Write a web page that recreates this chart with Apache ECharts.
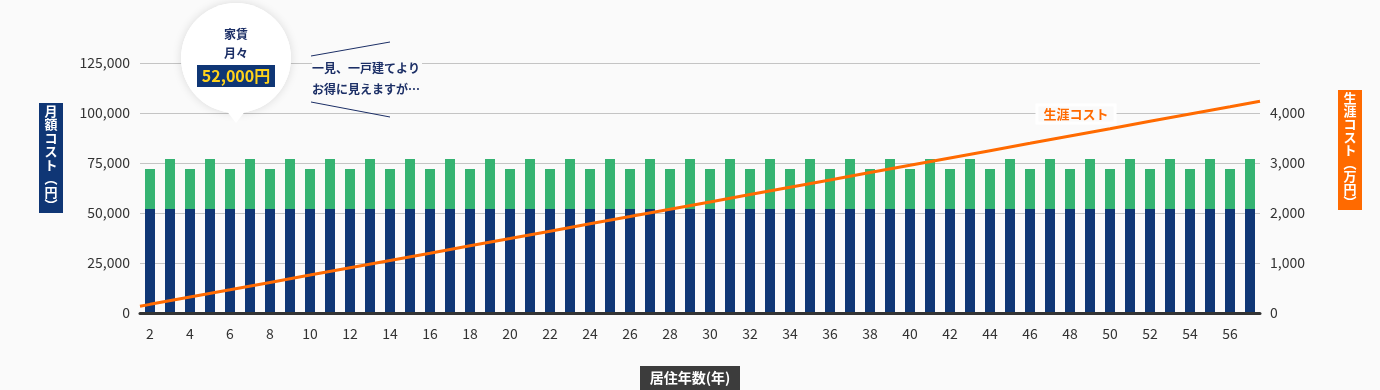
<!DOCTYPE html>
<html>
<head>
<meta charset="utf-8">
<script src="https://cdn.jsdelivr.net/npm/echarts@6/dist/echarts.min.js"></script>
<style>
html,body{margin:0;padding:0;background:#fafafa;}
#c{width:1380px;height:390px;}
</style>
</head>
<body>
<div id="c"></div>
<script>
// ---- data ----
const years = ['2','3','4','5','6','7','8','9','10','11','12','13','14','15','16','17','18','19','20','21','22','23','24','25','26','27','28','29','30','31','32','33','34','35','36','37','38','39','40','41','42','43','44','45','46','47','48','49','50','51','52','53','54','55','56','57'];
const rent = [52000,52000,52000,52000,52000,52000,52000,52000,52000,52000,52000,52000,52000,52000,52000,52000,52000,52000,52000,52000,52000,52000,52000,52000,52000,52000,52000,52000,52000,52000,52000,52000,52000,52000,52000,52000,52000,52000,52000,52000,52000,52000,52000,52000,52000,52000,52000,52000,52000,52000,52000,52000,52000,52000,52000,52000];
const otherCost = [20000,25000,20000,25000,20000,25000,20000,25000,20000,25000,20000,25000,20000,25000,20000,25000,20000,25000,20000,25000,20000,25000,20000,25000,20000,25000,20000,25000,20000,25000,20000,25000,20000,25000,20000,25000,20000,25000,20000,25000,20000,25000,20000,25000,20000,25000,20000,25000,20000,25000,20000,25000,20000,25000,20000,25000];
const lifeYears = [1.5,2,4,6,8,10,12,14,16,18,20,22,24,26,28,30,32,34,36,38,40,42,44,46,48,50,52,54,56,57.5];
const lifeCost = [136,173,319,465,612,758,905,1051,1197,1344,1490,1637,1783,1929,2076,2222,2369,2515,2661,2808,2954,3101,3247,3393,3540,3686,3833,3979,4125,4235];
const leftTicks = [0,25000,50000,75000,100000,125000];
const rightTicks = [0,1000,2000,3000,4000,5000];

const NAVY = '#0f3675', GREEN = '#35b372', ORANGE = '#ff6a00';
const FONT = 'Noto Sans CJK JP';

const chart = echarts.init(document.getElementById('c'), null, {renderer:'canvas'});
const fmt = v => v.toLocaleString('en-US');

chart.setOption({
  backgroundColor: '#fafafa',
  animation: false,
  textStyle: {fontFamily: FONT},
  grid: {left: 140, right: 120, top: 63, bottom: 77},
  xAxis: [{
    type: 'category', data: years,
    axisLine: {lineStyle: {color: '#333', width: 3}},
    axisTick: {interval: 1, alignWithLabel: true, length: 7, lineStyle: {color: '#aaa'}},
    axisLabel: {interval: 1, color: '#333', fontSize: 14, margin: 14, fontFamily: FONT},
    z: 5
  },{
    type: 'value', min: 1.5, max: 57.5, show: false
  }],
  yAxis: [{
    type: 'value', min: leftTicks[0], max: leftTicks[leftTicks.length-1], interval: 25000,
    axisLine: {show: false}, axisTick: {show: false},
    axisLabel: {color: '#333', fontSize: 14, margin: 10, formatter: fmt, fontFamily: FONT},
    splitLine: {lineStyle: {color: '#c4c4c4', width: 1}}
  },{
    type: 'value', min: rightTicks[0], max: rightTicks[rightTicks.length-1], interval: 1000,
    axisLine: {show: false}, axisTick: {show: false},
    axisLabel: {color: '#333', fontSize: 14, margin: 10, formatter: fmt, showMaxLabel: false, fontFamily: FONT},
    splitLine: {show: false}
  }],
  series: [{
    name: '家賃', type: 'bar', stack: 'm', data: rent, barWidth: 10,
    itemStyle: {color: NAVY}
  },{
    name: 'その他', type: 'bar', stack: 'm', data: otherCost, barWidth: 10,
    itemStyle: {color: GREEN}
  },{
    name: '生涯コスト', type: 'line', xAxisIndex: 1, yAxisIndex: 1,
    data: lifeYears.map((y,i)=>[y, lifeCost[i]]),
    symbol: 'none', lineStyle: {color: ORANGE, width: 3}, z: 10
  }],
  graphic: [
    // left axis name
    {type:'rect', left:39, top:103, shape:{width:24, height:110}, style:{fill:NAVY}},
    {type:'text', x:51, y:158, style:{text:'月\n額\nコ\nス\nト\n︵\n円\n︶', fill:'#fff', font:'bold 13px "Noto Sans CJK JP"', align:'center', verticalAlign:'middle', lineHeight:13.5}},
    // right axis name
    {type:'rect', left:1338, top:90, shape:{width:24, height:120}, style:{fill:ORANGE}},
    {type:'text', x:1350, y:150, style:{text:'生\n涯\nコ\nス\nト\n︵\n万\n円\n︶', fill:'#fff', font:'bold 13px "Noto Sans CJK JP"', align:'center', verticalAlign:'middle', lineHeight:13}},
    // x axis name
    {type:'rect', left:640, top:366, shape:{width:100, height:24}, style:{fill:'#3c3c3c'}},
    {type:'text', x:690, y:378, style:{text:'居住年数(年)', fill:'#fff', font:'bold 14px "Noto Sans CJK JP"', align:'center', verticalAlign:'middle'}},
    // line label
    {type:'text', x:1076, y:114, z:20, style:{text:'生涯コスト', fill:ORANGE, font:'bold 13px "Noto Sans CJK JP"', align:'center', verticalAlign:'middle', backgroundColor:'#fafafa', padding:[1,5], textBorderColor:'#fff', textBorderWidth:3}},
    // bubble
    {type:'circle', z:30, shape:{cx:236, cy:58, r:55}, style:{fill:'#fff', shadowBlur:10, shadowColor:'rgba(0,0,0,0.13)'}},
    {type:'polygon', z:30, shape:{points:[[226,110],[246,110],[236,123]]}, style:{fill:'#fff'}},
    {type:'circle', z:31, shape:{cx:236, cy:58, r:55}, style:{fill:'#fff'}},
    {type:'text', z:32, x:236, y:34, style:{text:'家賃', fill:'#1c2f66', font:'bold 12px "Noto Sans CJK JP"', align:'center', verticalAlign:'middle'}},
    {type:'text', z:32, x:236, y:53, style:{text:'月々', fill:'#1c2f66', font:'bold 12px "Noto Sans CJK JP"', align:'center', verticalAlign:'middle'}},
    {type:'rect', z:32, left:197, top:65, shape:{width:78, height:22}, style:{fill:NAVY}},
    {type:'text', z:33, x:236, y:76, style:{text:'52,000円', fill:'#ffd21a', font:'bold 16px "Noto Sans CJK JP"', align:'center', verticalAlign:'middle'}},
    // comment
    {type:'line', z:20, shape:{x1:311, y1:56, x2:390, y2:42}, style:{stroke:'#1c2f66', lineWidth:1}},
    {type:'line', z:20, shape:{x1:311, y1:102, x2:390, y2:117}, style:{stroke:'#1c2f66', lineWidth:1}},
    {type:'text', z:20, x:312, y:68, style:{text:'一見、一戸建てより', fill:'#1c2f66', font:'bold 12px "Noto Sans CJK JP"', align:'left', verticalAlign:'middle', backgroundColor:'#fafafa', padding:[0,2,0,0]}},
    {type:'text', z:20, x:312, y:89, style:{text:'お得に見えますが…', fill:'#1c2f66', font:'bold 12px "Noto Sans CJK JP"', align:'left', verticalAlign:'middle'}}
  ]
});
</script>
</body>
</html>
